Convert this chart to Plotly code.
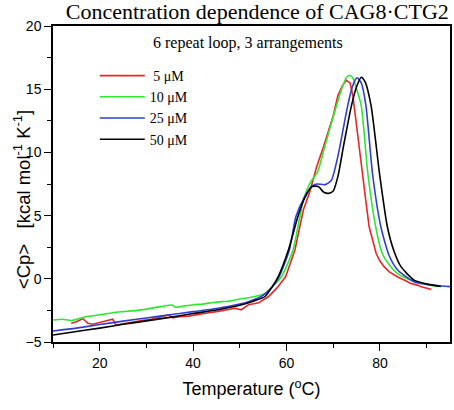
import plotly.graph_objects as go

# ---- data ----
x_5 = [13.9, 15.0, 16.4, 17.5, 18.5, 20.0, 21.0, 22.8, 23.5, 25.0, 27.0, 29.0, 31.0, 33.0,
       34.8, 35.6, 37.0, 39.0, 41.0, 43.0, 45.0, 47.0, 49.0, 50.3, 51.9, 54.0, 56.1, 58.0,
       59.8, 61.8, 63.6, 65.0, 66.4, 67.7, 68.9, 70.0, 71.0, 72.0, 72.8, 73.6, 74.2, 74.9,
       75.6, 76.3, 77.0, 77.7, 78.4, 79.2, 80.0, 80.9, 82.0, 83.0, 84.0, 85.2, 86.5, 88.0,
       89.0, 90.1, 91.0]
y_5 = [-3.52, -3.4, -3.15, -3.52, -3.6, -3.45, -3.35, -3.2, -3.66, -3.55, -3.45, -3.3, -3.2,
       -3.0, -2.86, -3.1, -3.0, -2.95, -2.8, -2.7, -2.6, -2.45, -2.33, -2.45, -2.05, -1.9,
       -1.42, -0.7, 0.16, 2.28, 5.44, 6.9, 8.8, 10.2, 11.6, 12.9, 14.5, 15.3, 15.7, 15.5,
       14.5, 12.3, 10.3, 8.35, 6.1, 4.1, 3.0, 2.0, 1.4, 0.96, 0.55, 0.3, 0.1, -0.1, -0.35,
       -0.5, -0.65, -0.75, -0.85]

x_10 = [10.0, 12.0, 14.0, 17.0, 20.0, 22.8, 25.0, 28.0, 30.0, 33.0, 35.5, 36.2, 38.0, 40.0,
        42.0, 44.8, 48.0, 50.0, 51.9, 55.4, 57.3, 58.9, 61.4, 63.6, 65.0, 66.7, 68.0, 69.6,
        71.7, 72.8, 73.5, 74.2, 75.0, 76.0, 77.4, 79.1, 80.5, 82.3, 84.0, 86.6, 88.5, 90.9,
        92.3]
y_10 = [-3.26, -3.2, -3.3, -3.0, -2.85, -2.68, -2.6, -2.5, -2.4, -2.2, -2.07, -2.25, -2.15,
        -2.05, -2.0, -1.85, -1.75, -1.6, -1.5, -1.15, -0.5, 0.16, 2.28, 6.23, 7.55, 8.5,
        10.2, 12.3, 14.9, 15.9, 16.1, 15.9, 15.0, 13.7, 8.35, 4.1, 2.0, 0.96, 0.35, -0.1,
        -0.3, -0.5, -0.6]

x_25 = [10.0, 15.0, 20.0, 25.0, 30.0, 35.0, 40.0, 45.0, 50.0, 52.0, 55.0, 56.8, 58.4, 60.6,
        62.0, 63.9, 65.5, 66.5, 68.3, 69.6, 71.0, 73.1, 74.2, 75.1, 76.0, 77.0, 78.4, 80.2,
        82.0, 83.8, 87.3, 90.0, 95.0]
y_25 = [-4.13, -3.9, -3.62, -3.35, -3.1, -2.85, -2.6, -2.35, -2.0, -1.8, -1.3, -0.7, 0.16,
        2.28, 4.9, 6.5, 7.35, 7.5, 7.45, 7.8, 9.7, 13.7, 15.3, 15.9, 15.5, 13.7, 8.35, 4.1,
        1.8, 0.7, -0.23, -0.45, -0.62]

x_50 = [10.0, 15.0, 20.0, 25.0, 30.0, 35.0, 40.0, 45.0, 50.0, 53.0, 55.4, 58.2, 60.4, 62.5,
        63.9, 65.5, 66.8, 68.0, 69.0, 70.0, 71.0, 72.2, 73.9, 75.0, 76.0, 76.8, 78.1, 79.9,
        81.6, 83.0, 84.5, 87.3, 90.0, 93.0]
y_50 = [-4.45, -4.17, -3.9, -3.6, -3.33, -3.05, -2.75, -2.47, -2.1, -1.75, -1.4, 0.16, 2.28,
        5.0, 6.4, 7.3, 7.3, 6.85, 6.76, 6.95, 8.1, 10.5, 13.7, 15.2, 15.95, 15.6, 13.7, 8.35,
        4.1, 2.2, 0.96, -0.1, -0.4, -0.6]

series = [
    (" 5 \u03bcM", x_5, y_5, "#e8262a", "linear"),
    ("10 \u03bcM", x_10, y_10, "#2ee82e", "spline"),
    ("25 \u03bcM", x_25, y_25, "#2f3fd6", "spline"),
    ("50 \u03bcM", x_50, y_50, "#000000", "spline"),
]

x_ticks = [20, 40, 60, 80]
y_ticks = [-5, 0, 5, 10, 15, 20]

W, H = 454, 410
ML, MR, MT, MB = 53, 2, 26, 68
plot_w = W - ML - MR
plot_h = H - MT - MB

fig = go.Figure()
for name, xs, ys, col, shape in series:
    fig.add_trace(go.Scatter(x=xs, y=ys, mode="lines", name=name,
                             line=dict(color=col, width=1.6, shape=shape, smoothing=0.6)))

serif = "Liberation Serif, Times New Roman, serif"
sans = "Liberation Sans, Arial, sans-serif"

fig.update_layout(
    width=W, height=H,
    margin=dict(l=ML, r=MR, t=MT, b=MB),
    plot_bgcolor="white", paper_bgcolor="white",
    showlegend=True,
    legend=dict(x=(95 - ML) / plot_w, y=1 - (60 - MT) / plot_h, xanchor="left", yanchor="top",
                font=dict(family=serif, size=14, color="black"),
                bgcolor="rgba(0,0,0,0)", tracegroupgap=0, itemwidth=45),
    title=dict(text="Concentration dependence of CAG8\u00b7CTG2",
               x=0.997, xanchor="right", xref="paper",
               y=1 - 4 / H, yanchor="top", yref="container",
               font=dict(family=serif, size=22, color="black")),
    xaxis=dict(range=[10, 95], tickvals=x_ticks, showgrid=False, zeroline=False,
               showline=True, linecolor="black", linewidth=1.5, mirror=True,
               ticks="outside", ticklen=7, tickwidth=1.3, tickcolor="black",
               minor=dict(dtick=10, tick0=0, ticks="outside", ticklen=4, tickwidth=1.3, tickcolor="black"),
               tickfont=dict(family=sans, size=14, color="black"),
               title=dict(text="Temperature (<sup>o</sup>C)",
                          font=dict(family=sans, size=18, color="black"), standoff=13)),
    yaxis=dict(range=[-5, 20], tickvals=y_ticks, showgrid=False, zeroline=False,
               showline=True, linecolor="black", linewidth=1.5, mirror=True,
               ticks="outside", ticklen=7, tickwidth=1.3, tickcolor="black",
               minor=dict(dtick=2.5, tick0=0, ticks="outside", ticklen=4, tickwidth=1.3, tickcolor="black"),
               tickfont=dict(family=sans, size=14, color="black")),
    annotations=[
        dict(text="6 repeat loop, 3 arrangements", x=0.49, y=1 - (43 - MT) / plot_h,
             xref="paper", yref="paper",
             xanchor="center", yanchor="middle", showarrow=False,
             font=dict(family=serif, size=16, color="black")),
        dict(text="<Cp>   [kcal mol<sup>-1</sup> K<sup>-1</sup>]", textangle=-90,
             x=(22 - ML) / plot_w, y=(H - MB - 200) / plot_h,
             xref="paper", yref="paper", xanchor="center", yanchor="middle", showarrow=False,
             font=dict(family=sans, size=18.5, color="black")),
    ],
)

fig.write_html("out.html", config={"displayModeBar": False},
               post_script="document.body.style.margin='0px';")
